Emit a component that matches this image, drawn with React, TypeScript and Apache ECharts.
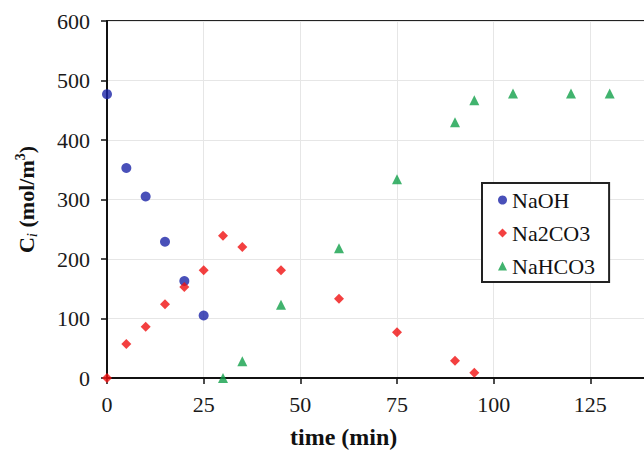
import React, { useEffect, useRef } from "react";
import * as echarts from "echarts";

const xTicks = [0, 25, 50, 75, 100, 125, 150];
const yTicks = [0, 100, 200, 300, 400, 500, 600];

const naohTime = [0, 5, 10, 15, 20, 25];
const naohConc = [477, 353, 305, 229, 163, 105];

const na2co3Time = [0, 5, 10, 15, 20, 25, 30, 35, 45, 60, 75, 90, 95];
const na2co3Conc = [0, 57, 86, 124, 153, 181, 239, 220, 181, 133, 77, 29, 9];

const nahco3Time = [30, 35, 45, 60, 75, 90, 95, 105, 120, 130];
const nahco3Conc = [0, 28, 123, 218, 334, 430, 467, 478, 478, 478];

const FONT = "Liberation Serif";

function pairs(xs: number[], ys: number[]) {
  return xs.map((x, i) => [x, ys[i]]);
}

export default function App() {
  const ref = useRef<HTMLDivElement>(null);
  useEffect(() => {
    if (!ref.current) return;
    const chart = echarts.init(ref.current, undefined, { renderer: "svg" });
    const axisCommon = {
      type: "value" as const,
      axisLine: { show: true, lineStyle: { color: "#111", width: 2 } },
      axisTick: { show: true, inside: false, length: 6, lineStyle: { color: "#111", width: 1.5 } },
      splitLine: { show: true, lineStyle: { color: "#e6e6e6", width: 1 } },
      axisLabel: { fontFamily: FONT, fontSize: 22, color: "#1a1a1a" },
    };
    chart.setOption({
      animation: false,
      backgroundColor: "#ffffff",
      grid: {
        left: 107,
        top: 21,
        width: 580,
        height: 357,
        show: true,
        borderColor: "#222",
        borderWidth: 2,
        backgroundColor: "transparent",
      },
      xAxis: {
        ...axisCommon,
        min: xTicks[0],
        max: xTicks[xTicks.length - 1],
        interval: 25,
        axisLabel: { ...axisCommon.axisLabel, margin: 15, showMaxLabel: false },
      },
      yAxis: {
        ...axisCommon,
        min: yTicks[0],
        max: yTicks[yTicks.length - 1],
        interval: 100,
        axisLabel: { ...axisCommon.axisLabel, margin: 17 },
        name: "{b|C}{i|i}{b| (mol/m}{s|3}{b|)}",
        nameLocation: "middle",
        nameGap: 68,
        nameRotate: 90,
        nameTextStyle: {
          rich: {
            b: { fontFamily: FONT, fontSize: 22, fontWeight: "bold", color: "#111", verticalAlign: "middle", lineHeight: 26 },
            i: { fontFamily: FONT, fontSize: 15, fontStyle: "italic", color: "#111", verticalAlign: "bottom", lineHeight: 26 },
            s: { fontFamily: FONT, fontSize: 14, fontWeight: "bold", color: "#111", verticalAlign: "top", lineHeight: 26 },
          },
        },
      },
      legend: {
        orient: "vertical",
        left: 482,
        top: 183,
        padding: [6, 14, 5, 16],
        itemGap: 11,
        itemWidth: 9,
        itemHeight: 9,
        borderColor: "#222",
        borderWidth: 2,
        backgroundColor: "#fff",
        textStyle: { fontFamily: FONT, fontSize: 22, color: "#111", lineHeight: 22 },
        data: [
          { name: "NaOH", icon: "circle" },
          { name: "Na2CO3", icon: "diamond" },
          { name: "NaHCO3", icon: "triangle" },
        ],
      },
      graphic: [
        {
          type: "text",
          left: 290,
          top: 425,
          style: { text: "time (min)", fontFamily: FONT, fontSize: 24, fontWeight: "bold", fill: "#111" },
        },
      ],
      series: [
        {
          name: "NaOH",
          type: "scatter",
          symbol: "circle",
          symbolSize: 10,
          itemStyle: { color: "#1b24a8" },
          data: pairs(naohTime, naohConc),
        },
        {
          name: "Na2CO3",
          type: "scatter",
          symbol: "diamond",
          symbolSize: 10,
          itemStyle: { color: "#f01010" },
          data: pairs(na2co3Time, na2co3Conc),
        },
        {
          name: "NaHCO3",
          type: "scatter",
          symbol: "triangle",
          symbolSize: 10,
          itemStyle: { color: "#12a04a" },
          data: pairs(nahco3Time, nahco3Conc),
        },
      ],
    });
    return () => chart.dispose();
  }, []);
  return (
    <div style={{ position: "fixed", left: 0, top: 0, width: 644, height: 451, overflow: "hidden", background: "#fff" }}>
      <div ref={ref} style={{ width: 700, height: 451 }} />
    </div>
  );
}
